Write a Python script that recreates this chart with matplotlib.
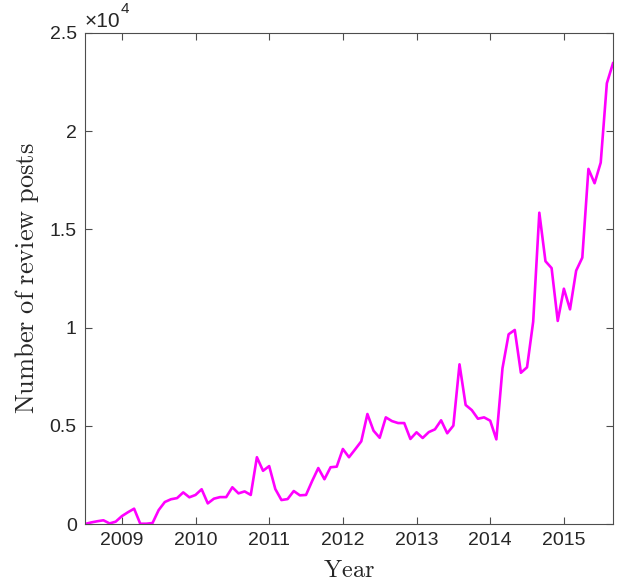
import numpy as np
import matplotlib
matplotlib.use('Agg')
import matplotlib.pyplot as plt
from matplotlib.ticker import FuncFormatter

# monthly review post counts, July 2008 .. September 2015
start_year = 2008
start_month = 7
posts = [0, 80, 140, 190, 30, 120, 400, 600, 780, 15, 15, 50,
         710, 1120, 1260, 1320, 1610, 1360, 1480, 1770, 1050, 1290, 1370, 1370,
         1870, 1560, 1660, 1480, 3400, 2710, 2950, 1780, 1220, 1270, 1680, 1460,
         1480, 2190, 2850, 2280, 2890, 2920, 3820, 3400, 3800, 4210, 5600, 4750,
         4390, 5430, 5240, 5140, 5140, 4330, 4670, 4380, 4680, 4820, 5280, 4620,
         5010, 8130, 6060, 5800, 5360, 5430, 5260, 4310, 7930, 9660, 9880, 7700,
         7980, 10300, 15850, 13380, 13030, 10340, 11980, 10930, 12900, 13560, 18080, 17350,
         18400, 22440, 23460]
year_ticks = [2009, 2010, 2011, 2012, 2013, 2014, 2015]
y_ticks = [0, 5000, 10000, 15000, 20000, 25000]

months = np.arange(len(posts))
t = start_year + (start_month - 1 + months) / 12.0

plt.rcParams['font.family'] = ['Liberation Sans', 'DejaVu Sans']
plt.rcParams['mathtext.fontset'] = 'cm'

fig = plt.figure(figsize=(6.19, 5.87), dpi=100)
ax = fig.add_axes([0.1373, 0.1073, 0.853, 0.8365])

ax.plot(t, posts, color='#ff00ff', lw=1.9)

ax.set_xlim(t[0], t[-1])
ax.set_ylim(0, 25000)
ax.set_xticks(year_ticks)
ax.set_yticks(y_ticks)
ax.yaxis.set_major_formatter(FuncFormatter(lambda v, p: f'{v / 1e4:g}'))

edge = '#4d4d4d'
for s in ax.spines.values():
    s.set_color(edge)
    s.set_linewidth(0.8)
ax.tick_params(direction='in', length=5, width=0.8, color=edge,
               labelsize=14, labelcolor='#262626', top=True, right=True, pad=6)

# exponent label in the top left corner
ax.text(0.0, 1.005, '\u00d710', transform=ax.transAxes,
        fontsize=15, color='#262626', ha='left', va='bottom')
ax.text(0.068, 1.035, '4', transform=ax.transAxes,
        fontsize=11, color='#262626', ha='left', va='bottom')

ax.set_xlabel(r'$\mathrm{Year}$', fontsize=17.5, labelpad=8, color='#262626')
ax.set_ylabel(r'$\mathrm{Number\ of\ review\ posts}$', fontsize=19,
              labelpad=6, color='#262626')

fig.savefig('out.png', dpi=100)
